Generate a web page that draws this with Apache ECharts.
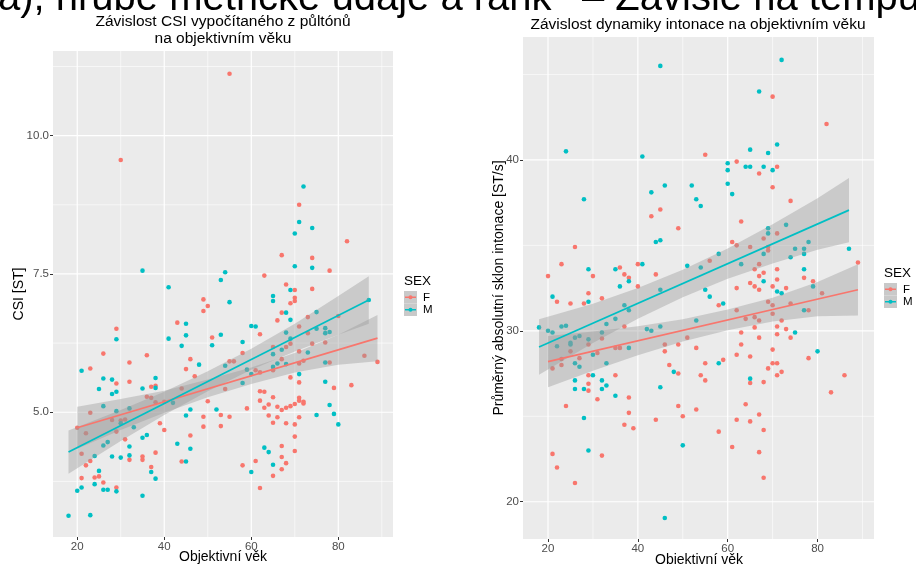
<!DOCTYPE html>
<html><head><meta charset="utf-8">
<script src="https://cdn.jsdelivr.net/npm/echarts@6/dist/echarts.min.js"></script>
<style>html,body{margin:0;padding:0;background:#fff}#c{width:916px;height:564px}</style>
</head><body><div id="c"></div>
<script>
// ---------- DATA ----------
const sexLevels = ['F', 'M'];
// Left panel: CSI [ST] vs age
const csiF = [[30,9.56],[49,7.04],[50,6.92],[55,11.12],[71,8.75],[82,8.09],[67,7.84],[74,7.79],[78,7.56],[63,7.47],[68,7.31],[74,7.23],[70,7.21],[70,7.07],[70,7.01],[69,6.97],
[29,6.51],[43,6.62],[26,6.06],[36,6.03],[46,5.96],[32,5.90],[45,5.78],[23,5.79],[47,5.65],[32,5.55],[29,5.52],[37,5.46],[38,5.48],[44,5.43],[36,5.28],[37,5.26],[38,5.18],[40,5.19],[23,4.99],[49,4.92],[20,4.72],[22,4.62],[28,4.86],[30,4.85],[31,4.87],[39,4.80],[29,4.65],[40,4.68],[31,4.51],[46,4.58],[21,4.25],[23,4.12],[22,4.04],[32,4.14],[35,4.20],[35,4.14],[38,4.27],[44,4.11],[37,4.01],[25,3.84],[24,3.82],[21,3.81],[26,3.73],[29,3.64],
[51,6.35],[49,6.83],[49,4.74],[53,4.95],[53,4.75],[50,5.20],[55,4.92],
[67,6.80],[66,6.66],[73,6.72],[80,6.74],[77,6.26],[71,6.55],[62,6.41],[58,6.07],[69,6.24],[68,6.18],[65,6.18],[67,5.96],[71,6.10],[71,5.88],[72,5.93],[74,6.24],[73,6.43],[55,5.92],[56,5.92],[61,5.76],[62,5.72],[65,5.76],[69,5.63],[71,5.54],[54,5.42],[62,5.38],[63,5.37],[62,5.21],[65,5.27],[71,5.26],[71,5.21],[72,5.19],[72,5.16],[70,5.15],[69,5.11],[68,5.08],[67,5.04],[66,5.10],[64,5.14],[63,5.08],[59,5.07],[79,5.44],[83,5.49],[86,6.02],[89,5.91],[78,5.90],[64,4.94],[66,4.91],[71,4.91],[65,4.81],[68,4.80],[70,4.78],[70,4.56],[70,4.30],[67,4.39],[67,4.19],[68,4.08],[67,3.97],[65,3.85],[61,4.12],[58,4.04],[62,3.63]];
const csiM = [[35,7.56],[41,7.26],[53,7.39],[54,7.53],[55,6.99],[72,9.08],[71,8.44],[70,8.23],[74,8.33],[70,7.64],[74,7.61],[69,7.21],[65,7.10],[65,7.01],[87,7.03],
[29,6.32],[45,6.60],[45,6.39],[41,6.33],[44,6.20],[48,5.86],[21,5.75],[26,5.61],[28,5.59],[38,5.62],[38,5.44],[35,5.43],[25,5.42],[29,5.37],[28,5.33],[42,5.17],[26,5.11],[32,5.07],[46,5.05],[29,5.02],[45,4.94],[30,4.80],[33,4.73],[35,4.54],[36,4.59],[43,4.43],[46,4.34],[27,4.46],[26,4.40],[32,4.38],[24,4.21],[28,4.20],[30,4.18],[32,4.22],[45,4.11],[37,3.92],[38,3.80],[25,3.94],[24,3.70],[21,3.64],[20,3.58],[26,3.60],[27,3.60],[29,3.57],[35,3.49],[18,3.13],[23,3.14],
[51,6.21],[53,6.40],[52,5.05],
[68,6.80],[69,6.67],[75,6.81],[75,6.51],[77,6.52],[77,6.43],[78,6.45],[77,5.90],[60,6.56],[61,6.55],[58,6.27],[68,6.44],[67,6.13],[65,6.05],[65,5.82],[66,5.88],[69,6.33],[73,6.08],[54,5.84],[59,5.77],[60,5.69],[68,5.87],[71,5.69],[58,5.53],[77,5.55],[78,5.13],[79,4.97],[75,4.95],[80,4.78],[63,4.36],[64,4.28],[65,4.05],[60,3.92]];
// fitted lines and confidence bands
const csiLineF = [[20,4.72],[89,6.34]];
const csiLineM = [[18,4.28],[87,7.03]];
const csiBandXF = [20,30,40,50,60,70,80,89];
const csiBandLoF = [4.34,4.68,4.99,5.27,5.51,5.72,5.86,5.92];
const csiBandHiF = [5.10,5.24,5.39,5.59,5.81,6.07,6.40,6.76];
const csiBandXM = [18,30,40,50,60,70,80,87];
const csiBandLoM = [3.89,4.48,4.95,5.38,5.77,6.10,6.40,6.60];
const csiBandHiM = [4.67,5.04,5.37,5.74,6.15,6.60,7.10,7.46];

// Right panel: mean absolute intonation slope [ST/s] vs age
const dynF = [[45,37.1],[43,36.7],[49,36.0],[26,34.9],[23,33.9],[20,33.2],[30,33.2],[36,33.7],[40,33.9],[37,33.3],[38,33.1],[44,33.3],[40,32.6],[29,32.2],[32,31.9],
[70,43.7],[82,42.1],[55,40.3],[62,39.9],[71,39.6],[67,39.2],[70,38.4],[74,37.6],[63,36.4],[61,35.2],[62,35.0],[65,34.9],[56,34.1],[66,33.6],[67,33.9],[68,35.4],[71,35.7],[69,34.9],[69,34.7],[89,34.0],[77,33.1],[79,32.9],[71,33.6],[67,33.2],[68,33.4],[65,32.8],[66,32.6],[71,33.0],[62,32.5],[67,32.4],[70,32.6],[73,32.5],[81,32.2],
[22,31.7],[25,31.6],[28,31.6],[29,29.2],[37,30.25],[32,29.55],[25,28.8],[23,28.35],[21,27.8],[23,28.0],[27,28.4],[31,28.7],[35,29.0],[36,29.0],[46,29.2],[46,28.8],[49,29.2],[51,29.6],[47,28.0],[49,27.5],[29,27.4],[35,27.4],[29,26.9],[29,26.5],[31,26.0],[38,26.1],[24,25.6],[49,25.6],[38,25.2],[50,25.0],[44,24.8],[37,24.5],[39,24.3],[32,22.7],[21,22.8],[22,22.0],[26,21.1],
[58,31.5],[62,31.2],[64,30.7],[66,30.8],[67,30.6],[66,30.2],[63,29.9],[67,29.6],[71,30.25],[71,29.8],[72,30.6],[73,30.1],[74,29.6],[78,31.2],[69,31.7],[70,31.5],[70,31.0],[74,31.6],[53,29.0],[63,29.2],[62,28.6],[65,28.5],[70,28.9],[59,28.3],[55,28.1],[70,28.1],[71,28.1],[69,27.8],[72,27.6],[71,27.4],[54,27.4],[55,27.1],[65,26.95],[68,27.0],[78,28.4],[86,27.4],[83,26.4],[64,25.7],[53,25.4],[67,25.1],[62,24.8],[65,24.7],[58,24.1],[68,24.2],[61,23.2],[67,22.9],[68,21.4]];
const dynM = [[45,45.5],[24,40.5],[41,40.2],[28,37.7],[46,38.5],[43,38.1],[44,35.2],[45,35.3],[29,33.6],[35,33.6],[41,33.9],[38,32.9],[36,32.6],[45,32.4],[51,33.8],[21,32.0],
[72,45.85],[67,44.0],[65,40.6],[71,40.9],[69,40.4],[60,39.8],[60,39.4],[64,39.6],[65,39.6],[68,39.6],[70,39.4],[52,38.5],[60,38.6],[61,38.0],[53,37.7],[54,37.3],[58,34.5],[54,33.7],[63,33.9],[69,36.0],[69,35.7],[73,36.2],[68,34.5],[78,35.2],[75,34.8],[77,34.8],[77,34.5],[74,34.3],[87,34.8],[77,33.6],[79,32.6],[68,32.9],[71,32.3],[72,32.2],[55,32.4],[56,32.0],
[29,31.7],[18,30.2],[20,30.0],[21,29.9],[23,30.25],[24,30.3],[22,29.1],[25,29.3],[25,29.2],[26,29.6],[27,29.7],[29,29.5],[32,29.9],[33,30.4],[35,30.7],[37,31.5],[38,31.2],[26,28.1],[27,27.9],[30,28.6],[33,28.1],[38,29.0],[42,30.1],[43,30.0],[45,30.25],[48,27.6],[30,27.4],[26,27.1],[32,27.1],[33,26.8],[32,26.6],[26,26.6],[28,26.6],[35,26.2],[45,26.7],[28,24.9],[50,23.3],[29,23.0],[46,19.05],
[59,31.6],[53,30.6],[75,29.9],[77,31.2],[58,28.1],[65,27.2],[80,28.8]];
const dynLineF = [[20,28.2],[89,32.4]];
const dynLineM = [[18,29.05],[87,37.06]];
const dynBandXF = [20,30,40,50,60,70,80,89];
const dynBandLoF = [26.7,27.66,28.57,29.38,30.04,30.54,30.85,30.9];
const dynBandHiF = [29.7,29.96,30.27,30.68,31.24,31.94,32.85,33.9];
const dynBandXM = [18,30,40,50,60,70,80,87];
const dynBandLoM = [27.43,29.29,30.7,31.97,33.05,33.94,34.75,35.18];
const dynBandHiM = [30.67,31.59,32.5,33.57,34.81,36.24,37.75,38.94];

// ticks
const ageTicks = [20, 40, 60, 80];
const ageMinor = [30, 50, 70, 90];
const csiTicks = [5, 7.5, 10];
const csiMinor = [3.75, 6.25, 8.75, 11.25];
const dynTicks = [20, 30, 40];
const dynMinor = [25, 35, 45];

// texts
const titleLeft = ['Závislost CSI vypočítaného z půltónů', 'na objektivním věku'];
const titleRight = 'Závislost dynamiky intonace na objektivním věku';
const xTitle = 'Objektivní věk';
const yTitleLeft = 'CSI [ST]';
const yTitleRight = 'Průměrný absolutní sklon intonace [ST/s]';
const legendTitle = 'SEX';
const headingA = 'a), hrubé metrické údaje a rank';
const headingB = '– Závislé na tempu';

// ---------- CHART ----------
const colF = '#F8766D', colM = '#00BFC4';
const FONT = '"Liberation Sans", Arial, sans-serif';
const chart = echarts.init(document.getElementById('c'), null, {renderer: 'canvas'});

function xAxisDef(idx) {
  return {type: 'value', gridIndex: idx, min: 14.43, max: 92.57,
    axisLine: {show: false}, splitLine: {show: false},
    axisTick: {show: true, length: 3, lineStyle: {color: '#333', width: 1}, customValues: ageTicks},
    axisLabel: {customValues: ageTicks, color: '#4D4D4D', fontSize: 11.5, fontFamily: FONT, margin: 4}};
}
function yAxisDef(idx, min, max, ticks, dec) {
  return {type: 'value', gridIndex: idx, min: min, max: max,
    axisLine: {show: false}, splitLine: {show: false},
    axisTick: {show: true, length: 3, lineStyle: {color: '#333', width: 1}, customValues: ticks},
    axisLabel: {customValues: ticks, color: '#4D4D4D', fontSize: 11.5, fontFamily: FONT, margin: 4,
      formatter: v => dec ? Number(v).toFixed(1) : String(v)}};
}
function gridLines(idx, hMajor, hMinor, vMajor, vMinor) {
  const data = [];
  hMinor.forEach(v => data.push([0, v, 0.6]));
  vMinor.forEach(v => data.push([1, v, 0.6]));
  hMajor.forEach(v => data.push([0, v, 1.2]));
  vMajor.forEach(v => data.push([1, v, 1.2]));
  return {type: 'custom', xAxisIndex: idx, yAxisIndex: idx, z: 1, silent: true, clip: false,
    data: data, encode: {x: -1, y: -1},
    renderItem: (params, api) => {
      const cs = params.coordSys;
      const o = api.value(0), v = api.value(1), w = api.value(2);
      let shape;
      if (o === 0) { const p = api.coord([50, v]); shape = {x1: cs.x, y1: p[1], x2: cs.x + cs.width, y2: p[1]}; }
      else { const p = api.coord([v, (idx === 0 ? 5 : 30)]); shape = {x1: p[0], y1: cs.y, x2: p[0], y2: cs.y + cs.height}; }
      return {type: 'line', shape: shape, style: {stroke: '#FFFFFF', lineWidth: w}};
    }};
}
function band(idx, xs, lo, hi) {
  return {type: 'custom', xAxisIndex: idx, yAxisIndex: idx, z: 3, silent: true, clip: true,
    data: [[xs[0], lo[0]]],
    renderItem: (params, api) => {
      const pts = [];
      for (let i = 0; i < xs.length; i++) pts.push(api.coord([xs[i], hi[i]]));
      for (let i = xs.length - 1; i >= 0; i--) pts.push(api.coord([xs[i], lo[i]]));
      return {type: 'polygon', shape: {points: pts}, style: {fill: 'rgba(153,153,153,0.4)'}};
    }};
}
function scatter(idx, data, color) {
  return {type: 'scatter', xAxisIndex: idx, yAxisIndex: idx, data: data, symbolSize: 4.6, z: 2, silent: true,
    itemStyle: {color: color, opacity: 1}};
}
function fit(idx, data, color) {
  return {type: 'line', xAxisIndex: idx, yAxisIndex: idx, data: data, symbol: 'none', z: 4, silent: true,
    lineStyle: {color: color, width: 1.7}};
}
function legend(x, y) {
  const els = [{type: 'text', left: x, top: y, style: {text: legendTitle, fill: '#000', font: '13.5px ' + FONT}}];
  [[colF, sexLevels[0]], [colM, sexLevels[1]]].forEach((c, i) => {
    const ky = y + 17 + i * 12.5;
    els.push({type: 'rect', shape: {x: x, y: ky, width: 13, height: 12.5}, style: {fill: '#C9C9C9'}});
    els.push({type: 'line', shape: {x1: x + 1, y1: ky + 6.25, x2: x + 12, y2: ky + 6.25}, style: {stroke: c[0], lineWidth: 1.5}});
    els.push({type: 'circle', shape: {cx: x + 6.5, cy: ky + 6.25, r: 2}, style: {fill: c[0]}});
    els.push({type: 'text', x: x + 19, y: ky + 6.5, style: {text: c[1], fill: '#000', font: '11.5px ' + FONT, verticalAlign: 'middle'}});
  });
  return els;
}

const option = {
  animation: false,
  backgroundColor: '#FFFFFF',
  grid: [
    {left: 53, top: 51, width: 340, height: 486, show: true, backgroundColor: '#EBEBEB', borderWidth: 0},
    {left: 523, top: 37, width: 351, height: 502, show: true, backgroundColor: '#EBEBEB', borderWidth: 0}
  ],
  xAxis: [xAxisDef(0), xAxisDef(1)],
  yAxis: [yAxisDef(0, 2.745, 11.53, csiTicks, true), yAxisDef(1, 17.82, 47.19, dynTicks, false)],
  series: [
    gridLines(0, csiTicks, csiMinor, ageTicks, ageMinor),
    gridLines(1, dynTicks, dynMinor, ageTicks, ageMinor),
    scatter(0, csiF, colF), scatter(0, csiM, colM),
    scatter(1, dynF, colF), scatter(1, dynM, colM),
    band(0, csiBandXF, csiBandLoF, csiBandHiF), band(0, csiBandXM, csiBandLoM, csiBandHiM),
    band(1, dynBandXF, dynBandLoF, dynBandHiF), band(1, dynBandXM, dynBandLoM, dynBandHiM),
    fit(0, csiLineF, colF), fit(0, csiLineM, colM),
    fit(1, dynLineF, colF), fit(1, dynLineM, colM)
  ],
  graphic: [
    {type: 'text', x: -2, y: 19, style: {text: headingA, fill: '#000', font: '40px ' + FONT, verticalAlign: 'bottom'}},
    {type: 'text', x: 582, y: 19, style: {text: headingB, fill: '#000', font: '40px ' + FONT, verticalAlign: 'bottom'}},
    {type: 'text', x: 223, y: 22, style: {text: titleLeft[0], fill: '#000', font: '15.5px ' + FONT, align: 'center', verticalAlign: 'middle'}},
    {type: 'text', x: 223, y: 38.5, style: {text: titleLeft[1], fill: '#000', font: '15.5px ' + FONT, align: 'center', verticalAlign: 'middle'}},
    {type: 'text', x: 698, y: 25, style: {text: titleRight, fill: '#000', font: '15.5px ' + FONT, align: 'center', verticalAlign: 'middle'}},
    {type: 'text', x: 223, y: 557, style: {text: xTitle, fill: '#000', font: '14px ' + FONT, align: 'center', verticalAlign: 'middle'}},
    {type: 'text', x: 699, y: 560, style: {text: xTitle, fill: '#000', font: '14px ' + FONT, align: 'center', verticalAlign: 'middle'}},
    {type: 'text', x: 19, y: 294, rotation: Math.PI / 2, style: {text: yTitleLeft, fill: '#000', font: '14px ' + FONT, align: 'center', verticalAlign: 'middle'}},
    {type: 'text', x: 499, y: 288, rotation: Math.PI / 2, style: {text: yTitleRight, fill: '#000', font: '14px ' + FONT, align: 'center', verticalAlign: 'middle'}}
  ].concat(legend(404, 274)).concat(legend(884, 266))
};
chart.setOption(option);
</script></body></html>
